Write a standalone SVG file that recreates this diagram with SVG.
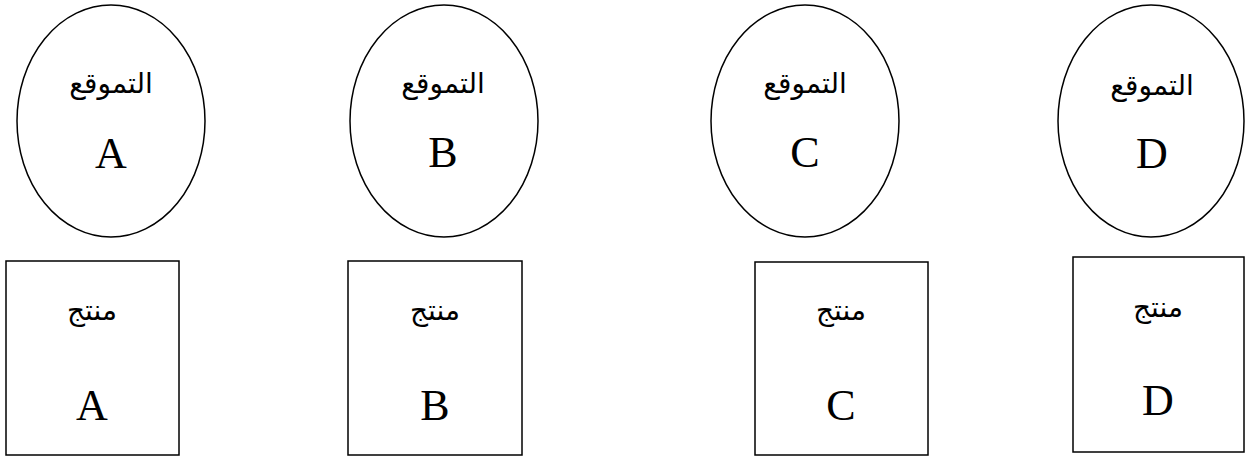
<svg xmlns="http://www.w3.org/2000/svg" width="1245" height="457" viewBox="0 0 1245 457">
<style>
.shape{fill:#fff;stroke:#000;stroke-width:1.5}
.ar{font-family:"Liberation Serif","DejaVu Sans",serif;font-size:28px;text-anchor:middle;fill:#000}
.lt{font-family:"Liberation Serif",serif;font-size:44px;text-anchor:middle;fill:#000}
</style>
<rect width="1245" height="457" fill="#fff"/>
<g id="connectors"></g>
<g id="locA"><ellipse class="shape" cx="111" cy="121" rx="94" ry="116"/><text class="ar" x="111" y="93" direction="rtl">التموقع</text><text class="lt" x="111" y="168">A</text></g>
<g id="locB"><ellipse class="shape" cx="444" cy="121" rx="94" ry="116"/><text class="ar" x="443" y="93" direction="rtl">التموقع</text><text class="lt" x="443" y="167">B</text></g>
<g id="locC"><ellipse class="shape" cx="805" cy="121" rx="94" ry="116"/><text class="ar" x="805" y="93" direction="rtl">التموقع</text><text class="lt" x="805" y="167">C</text></g>
<g id="locD"><ellipse class="shape" cx="1151" cy="121" rx="93" ry="116"/><text class="ar" x="1152" y="95" direction="rtl">التموقع</text><text class="lt" x="1152" y="168">D</text></g>
<g id="prodA"><rect class="shape" x="6" y="261" width="173" height="194"/><text class="ar" x="92" y="320" direction="rtl">منتج</text><text class="lt" x="92" y="420">A</text></g>
<g id="prodB"><rect class="shape" x="348" y="261" width="174" height="194"/><text class="ar" x="435" y="320" direction="rtl">منتج</text><text class="lt" x="435" y="420">B</text></g>
<g id="prodC"><rect class="shape" x="755" y="262" width="173" height="193"/><text class="ar" x="841" y="320" direction="rtl">منتج</text><text class="lt" x="841" y="420">C</text></g>
<g id="prodD"><rect class="shape" x="1073" y="257" width="171" height="195"/><text class="ar" x="1158" y="317" direction="rtl">منتج</text><text class="lt" x="1158" y="415">D</text></g>
</svg>
